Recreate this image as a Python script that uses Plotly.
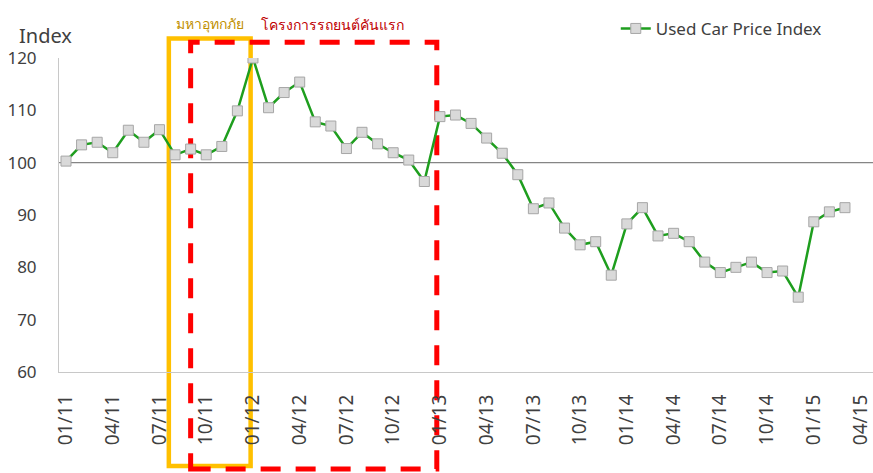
import plotly.graph_objects as go

# ---- data ----
tick_labels = ["01/11", "04/11", "07/11", "10/11", "01/12", "04/12", "07/12", "10/12",
               "01/13", "04/13", "07/13", "10/13", "01/14", "04/14", "07/14", "10/14",
               "01/15", "04/15"]
index_2011 = [100.3, 103.4, 103.9, 101.9, 106.2, 103.9, 106.3, 101.5, 102.6, 101.5, 103.1, 109.9]
index_2012 = [120.0, 110.5, 113.4, 115.4, 107.8, 107.0, 102.7, 105.8, 103.6, 101.9, 100.5, 96.4]
index_2013 = [108.8, 109.1, 107.5, 104.7, 101.8, 97.7, 91.2, 92.3, 87.5, 84.3, 84.9, 78.5]
index_2014 = [88.3, 91.4, 86.0, 86.5, 84.9, 81.0, 79.0, 80.0, 81.0, 79.0, 79.3, 74.3]
index_2015 = [88.7, 90.6, 91.4]
values = index_2011 + index_2012 + index_2013 + index_2014 + index_2015
months = list(range(len(values)))
tick_positions = [3 * i for i in range(len(tick_labels))]

flood_range = [6.6, 11.85]        # มหาอุทกภัย
program_range = [8.0, 23.8]       # โครงการรถยนต์คันแรก
baseline = 100

FONT = "Noto Sans"
TXT = "#404040"

fig = go.Figure()
fig.add_trace(go.Scatter(
    x=months, y=values, mode="lines+markers", name="Used Car Price Index",
    line=dict(color="#1E9E1E", width=2.5),
    marker=dict(symbol="square", size=10, color="#D9D9D9",
                line=dict(color="#A6A6A6", width=1)),
))

fig.update_layout(
    width=873, height=473,
    margin=dict(l=59, r=0, t=58, b=101, autoexpand=False),
    paper_bgcolor="white", plot_bgcolor="white",
    font=dict(family=FONT, color=TXT),
    showlegend=True,
    legend=dict(x=0.684, y=1.15, xanchor="left", yanchor="top",
                font=dict(size=17, color=TXT), bgcolor="rgba(0,0,0,0)"),
    xaxis=dict(range=[-0.45, 51.8], tickmode="array", tickvals=tick_positions,
               ticktext=tick_labels, tickangle=-90, tickfont=dict(size=19, color=TXT),
               showgrid=False, zeroline=False, showline=True, linecolor="#C8C8C8",
               linewidth=1, ticks="", ticklabelstandoff=14, automargin=False,
               ticklabeloverflow="allow"),
    yaxis=dict(range=[60, 120], tickvals=[60, 70, 80, 90, 100, 110, 120],
               tickfont=dict(size=17, color=TXT), showgrid=False, zeroline=False,
               showline=True, linecolor="#C8C8C8", linewidth=1, ticks="",
               ticklabelstandoff=18, automargin=False),
)

# baseline at 100
fig.add_shape(type="line", xref="paper", yref="y", x0=0, x1=1, y0=baseline, y1=baseline,
              line=dict(color="#858585", width=1.2), layer="below")
# flood box
fig.add_shape(type="rect", xref="x", yref="paper", x0=flood_range[0], x1=flood_range[1],
              y0=-0.2994, y1=1.062, line=dict(color="#FFC000", width=4.5), layer="below")
# first car program box
fig.add_shape(type="rect", xref="x", yref="paper", x0=program_range[0], x1=program_range[1],
              y0=-0.309, y1=1.05, line=dict(color="#FF0000", width=5, dash="20px,15px"),
              layer="below")

fig.add_annotation(text="Index", xref="paper", yref="paper", x=-0.052, y=1.073,
                   xanchor="left", yanchor="middle", showarrow=False,
                   font=dict(size=20, color=TXT))
fig.add_annotation(text="มหาอุทกภัย", xref="x", yref="paper",
                   x=(flood_range[0] + flood_range[1]) / 2, y=1.111,
                   xanchor="center", yanchor="middle", showarrow=False,
                   font=dict(size=14, color="#BF9000"))
fig.add_annotation(text="โครงการรถยนต์คันแรก", xref="paper", yref="paper", x=0.3354, y=1.108,
                   xanchor="center", yanchor="middle", showarrow=False,
                   font=dict(size=14, color="#C00000"))

fig.write_html("out.html", config={"displayModeBar": False},
               post_script="document.body.style.margin='0';document.body.style.overflow='hidden';")
